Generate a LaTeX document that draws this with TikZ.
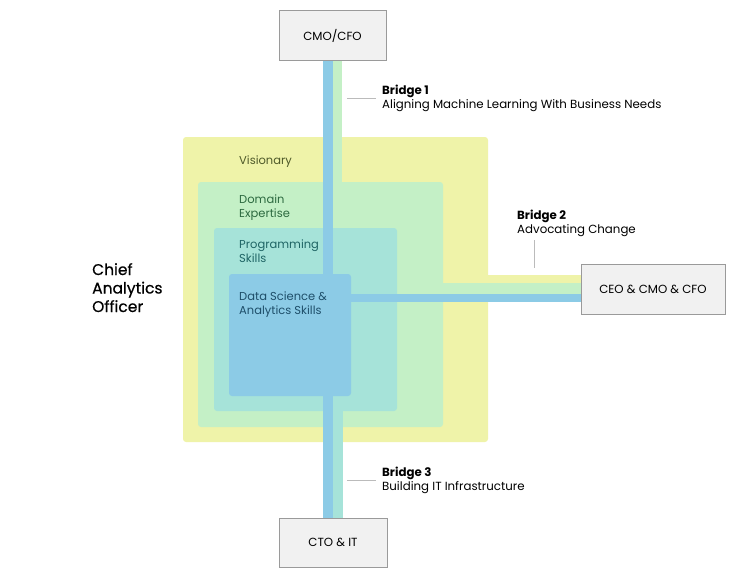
\documentclass[tikz,border=0pt]{standalone}
\usepackage{fontspec}
\setmainfont{Poppins}
\newfontfamily\medfont{Poppins}[FakeBold=0.6]
\definecolor{cyel}{HTML}{EFF3A9}
\definecolor{cgrn}{HTML}{C4F0C6}
\definecolor{cteal}{HTML}{A6E3D9}
\definecolor{cblue}{HTML}{8CCBE6}
\definecolor{boxfill}{HTML}{F1F1F1}
\definecolor{boxdraw}{HTML}{9A9A9A}
\definecolor{tyel}{HTML}{4F5A2A}
\definecolor{tgrn}{HTML}{2D6A40}
\definecolor{tteal}{HTML}{1F6565}
\definecolor{tblue}{HTML}{1F4F6A}
\definecolor{leadc}{HTML}{BBBBBB}
\tikzset{
  x=1pt,y=-1pt,
  zone/.style={rounded corners=3pt, inner sep=0pt, minimum size=#1},
  rolebox/.style={draw=boxdraw, fill=boxfill, line width=0.8pt, minimum width=#1, minimum height=50pt, inner sep=0pt, font=\fontsize{11.8}{13}\selectfont},
  zonelabel/.style={anchor=base west, align=left, inner sep=0pt, font=\fontsize{11.5}{14}\selectfont},
  bridgelabel/.style={anchor=base west, align=left, inner sep=0pt, font=\fontsize{11.8}{13.8}\selectfont},
  pipe/.style={line width=#1, line cap=butt},
  leader/.style={draw=leadc, line width=0.6pt},
}
\begin{document}
\begin{tikzpicture}
\useasboundingbox (0,0) rectangle (746,582);
% zones
\node[zone=305pt, fill=cyel] (vis) at (335.5,289.5) {};
\node[zone=245pt, fill=cgrn] (dom) at (320.5,304.5) {};
\node[zone=183pt, fill=cteal] (prog) at (305.5,319.5) {};
\node[zone=122pt, fill=cblue] (ds) at (290,335) {};
% role box positions
\path (332.5,35.5) coordinate (cmoc) (653,289) coordinate (ceoc) (333,542.5) coordinate (ctoc);
\path (cmoc) node[rolebox=107pt, draw=none, fill=none] (cmo) {\phantom{C}};
\path (ceoc) node[rolebox=144pt, draw=none, fill=none] (ceo) {\phantom{C}};
\path (ctoc) node[rolebox=108pt, minimum height=49pt, draw=none, fill=none] (cto) {\phantom{C}};
% pipes
\draw[pipe=9pt, cgrn] ([xshift=5pt]cmo.south) -- ([xshift=5pt]cmo.south |- dom.north);
\draw[pipe=10pt, cblue] ([xshift=-4.5pt]cmo.south) -- ([xshift=-4.5pt]cmo.south |- ds.north);
\draw[pipe=8pt, cyel] ([yshift=10pt]ceo.west) -- ([yshift=10pt]ceo.west -| vis.east);
\draw[pipe=11pt, cgrn] ([yshift=0.5pt]ceo.west) -- ([yshift=0.5pt]ceo.west -| dom.east);
\draw[pipe=8pt, cblue] ([yshift=-9pt]ceo.west) -- ([yshift=-9pt]ceo.west -| ds.east);
\draw[pipe=10pt, cteal] ([xshift=5pt]cto.north) -- ([xshift=5pt]cto.north |- prog.south);
\draw[pipe=10pt, cblue] ([xshift=-5pt]cto.north) -- ([xshift=-5pt]cto.north |- ds.south);
% boxes on top
\node[rolebox=107pt] (cmoB) at (cmoc) {CMO/CFO};
\node[rolebox=144pt] (ceoB) at (ceoc) {CEO \& CMO \& CFO};
\node[rolebox=108pt, minimum height=49pt] (ctoB) at (ctoc) {CTO \& IT};
% zone labels (anchor = baseline of last line)
\node[zonelabel, text=tyel] (lvis) at (239,164) {Visionary};
\node[zonelabel, text=tgrn] (ldom) at (239,217) {Domain\\Expertise};
\node[zonelabel, text=tteal] (lprog) at (239,262) {Programming\\Skills};
\node[zonelabel, text=tblue] (lds) at (239,314.5) {Data Science \&\\Analytics Skills};
% title
\node[anchor=base west, align=left, inner sep=0pt, font=\fontsize{15.5}{18.5}\selectfont\medfont] (cao) at (92,312) {Chief\\Analytics\\Officer};
% bridges
\node[bridgelabel] (b1) at (382,108.5) {\textbf{Bridge 1}\\Aligning Machine Learning With Business Needs};
\coordinate (b1s) at (347,98);
\coordinate (b1e) at (376,98);
\draw[leader] (b1s) -- (b1e);
\node[bridgelabel] (b2) at (517,233.5) {\textbf{Bridge 2}\\Advocating Change};
\coordinate (b2s) at (534,240);
\coordinate (b2e) at (534,268);
\draw[leader] (b2s) -- (b2e);
\node[bridgelabel] (b3) at (382,490.5) {\textbf{Bridge 3}\\Building IT Infrastructure};
\coordinate (b3s) at (347,480);
\coordinate (b3e) at (376,480);
\draw[leader] (b3s) -- (b3e);
\end{tikzpicture}
\end{document}
